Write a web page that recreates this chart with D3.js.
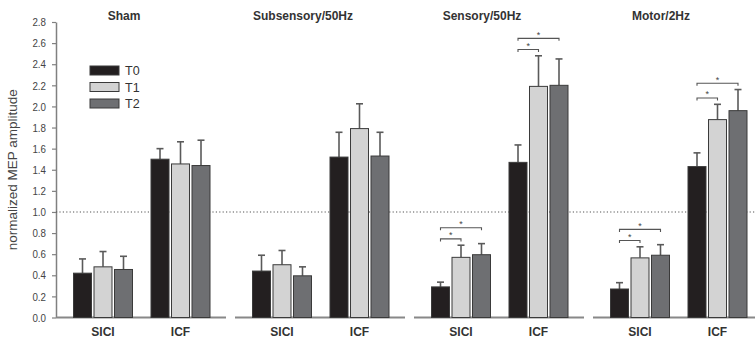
<!DOCTYPE html>
<html>
<head>
<meta charset="utf-8">
<script src="https://cdn.jsdelivr.net/npm/d3@7/dist/d3.min.js"></script>
<style>
  html, body { margin: 0; padding: 0; background: #fff; }
  svg { display: block; font-family: "Liberation Sans", Arial, sans-serif; }
</style>
</head>
<body>
<svg id="chart" width="755" height="338"></svg>
<script>
// Stimulation conditions (one panel each), measures and sessions
const panels = ["Sham", "Subsensory/50Hz", "Sensory/50Hz", "Motor/2Hz"];
const measures = ["SICI", "ICF"];
const sessions = ["T0", "T1", "T2"];

// Mean normalized MEP amplitude, ordered panel by panel: [SICI, ICF] for each condition
const meanT0 = [0.42, 1.50, 0.44, 1.52, 0.29, 1.47, 0.27, 1.43];
const meanT1 = [0.48, 1.455, 0.50, 1.79, 0.57, 2.19, 0.565, 1.875];
const meanT2 = [0.455, 1.44, 0.395, 1.53, 0.595, 2.20, 0.59, 1.96];

// Standard error (upper whisker length), same order
const semT0 = [0.135, 0.10, 0.15, 0.235, 0.045, 0.165, 0.06, 0.13];
const semT1 = [0.145, 0.21, 0.135, 0.235, 0.115, 0.29, 0.105, 0.145];
const semT2 = [0.125, 0.24, 0.085, 0.225, 0.105, 0.25, 0.10, 0.20];

// Significant differences between sessions (*)
const sigPanel   = ["Sensory/50Hz", "Sensory/50Hz", "Sensory/50Hz", "Sensory/50Hz", "Motor/2Hz", "Motor/2Hz", "Motor/2Hz", "Motor/2Hz"];
const sigMeasure = ["SICI", "SICI", "ICF", "ICF", "SICI", "SICI", "ICF", "ICF"];
const sigFrom    = ["T0", "T0", "T0", "T0", "T0", "T0", "T0", "T0"];
const sigTo      = ["T1", "T2", "T1", "T2", "T1", "T2", "T1", "T2"];

const yTicks = [0.0, 0.2, 0.4, 0.6, 0.8, 1.0, 1.2, 1.4, 1.6, 1.8, 2.0, 2.2, 2.4, 2.6, 2.8];

const fills = { T0: "#231f20", T1: "#d3d3d3", T2: "#6e6f72" };

const svg = d3.select("#chart");
const W = 755;

// Build records
const rows = [];
panels.forEach((p, pi) => {
  measures.forEach((m, mi) => {
    const k = pi * measures.length + mi;
    const means = [meanT0[k], meanT1[k], meanT2[k]];
    const sems = [semT0[k], semT1[k], semT2[k]];
    sessions.forEach((s, si) => rows.push({ panel: p, measure: m, session: s, mean: means[si], sem: sems[si] }));
  });
});

// Scales
const y = d3.scaleLinear().domain([0, 2.8]).range([317.5, 22]);
const xPanel = d3.scaleBand().domain(panels).range([56, 763]).paddingInner(9 / 179).paddingOuter(0);
const xGroup = d3.scalePoint().domain(measures).range([47, 124.5]);
const xBar = d3.scaleBand().domain(sessions).range([-29.5, 29.5]).paddingInner(0.122).paddingOuter(0);

const barX = d => xPanel(d.panel) + xGroup(d.measure) + xBar(d.session);
const barCx = d => barX(d) + xBar.bandwidth() / 2;

// Y axis
const yAxis = d3.axisLeft(y).tickValues(yTicks).tickFormat(d3.format(".1f")).tickSize(4).tickSizeOuter(0);
const gy = svg.append("g").attr("transform", "translate(56,0)").call(yAxis);
gy.select(".domain").attr("stroke", "#808080").attr("stroke-width", 1.5);
gy.selectAll(".tick line").attr("stroke", "#808080").attr("stroke-width", 1.2);
gy.selectAll(".tick text")
  .attr("x", null)
  .attr("transform", "translate(-10,0) scale(0.85,1)")
  .attr("fill", "#444")
  .attr("font-size", 11.5)
  .attr("font-family", "Liberation Sans, Arial, sans-serif");

// Y axis title
svg.append("text")
  .attr("transform", `translate(17,${(y(0) + y(2.8)) / 2}) scale(0.88,1) rotate(-90)`)
  .attr("text-anchor", "middle")
  .attr("fill", "#444")
  .attr("font-size", 13.5)
  .text("normalized MEP amplitude");

// Reference line at 1.0
svg.append("line")
  .attr("x1", 56).attr("x2", W)
  .attr("y1", y(1)).attr("y2", y(1))
  .attr("stroke", "#555").attr("stroke-width", 1.1)
  .attr("stroke-dasharray", "1.2,2.2");

// Panel baselines, titles and measure labels
const gp = svg.selectAll("g.panel").data(panels).join("g").attr("class", "panel")
  .attr("transform", d => `translate(${xPanel(d)},0)`);

gp.append("line")
  .attr("x1", 0).attr("x2", xPanel.bandwidth())
  .attr("y1", y(0)).attr("y2", y(0))
  .attr("stroke", "#888").attr("stroke-width", 2);

gp.append("text")
  .attr("x", 68).attr("y", 20)
  .attr("text-anchor", "middle")
  .attr("font-size", 12).attr("font-weight", "bold").attr("fill", "#333")
  .text(d => d);

gp.selectAll("text.measure").data(measures).join("text").attr("class", "measure")
  .attr("x", d => xGroup(d)).attr("y", 335.5)
  .attr("text-anchor", "middle")
  .attr("font-size", 12).attr("font-weight", "bold").attr("fill", "#333")
  .text(d => d);

// Error bars (upper whisker)
const eb = svg.append("g").selectAll("g").data(rows).join("g");
eb.append("line")
  .attr("x1", barCx).attr("x2", barCx)
  .attr("y1", d => y(d.mean)).attr("y2", d => y(d.mean + d.sem))
  .attr("stroke", "#5a5a5a").attr("stroke-width", 1.6);
eb.append("line")
  .attr("x1", d => barCx(d) - 3.5).attr("x2", d => barCx(d) + 3.5)
  .attr("y1", d => y(d.mean + d.sem)).attr("y2", d => y(d.mean + d.sem))
  .attr("stroke", "#5a5a5a").attr("stroke-width", 1.6);

// Bars
svg.append("g").selectAll("rect").data(rows).join("rect")
  .attr("x", barX)
  .attr("y", d => y(d.mean))
  .attr("width", xBar.bandwidth())
  .attr("height", d => y(0) - y(d.mean))
  .attr("fill", d => fills[d.session])
  .attr("stroke", "#3a3a3a").attr("stroke-width", 1);

// Significance brackets, stacked upward per group
const sigG = svg.append("g");
const lastLevel = {};
sigPanel.forEach((p, i) => {
  const m = sigMeasure[i];
  const a = sigFrom[i], b = sigTo[i];
  const span = sessions.slice(sessions.indexOf(a), sessions.indexOf(b) + 1);
  const topMost = d3.max(rows.filter(r => r.panel === p && r.measure === m && span.includes(r.session)), r => r.mean + r.sem);
  const key = p + "|" + m;
  let level = topMost + 0.06;
  if (lastLevel[key] !== undefined) level = Math.max(level, lastLevel[key] + 0.105);
  lastLevel[key] = level;
  const ra = rows.find(r => r.panel === p && r.measure === m && r.session === a);
  const rb = rows.find(r => r.panel === p && r.measure === m && r.session === b);
  const x1 = barCx(ra), x2 = barCx(rb), yy = y(level);
  sigG.append("path")
    .attr("d", `M${x1},${yy + 2.5}V${yy}H${x2}V${yy + 2.5}`)
    .attr("fill", "none").attr("stroke", "#555").attr("stroke-width", 1.1);
  sigG.append("text")
    .attr("x", (x1 + x2) / 2).attr("y", yy - 0.5)
    .attr("text-anchor", "middle")
    .attr("font-size", 9).attr("fill", "#444")
    .text("*");
});

// Legend
const leg = svg.append("g").selectAll("g").data(sessions).join("g")
  .attr("transform", (d, i) => `translate(90,${66 + i * 16.5})`);
leg.append("rect")
  .attr("width", 29).attr("height", 9)
  .attr("fill", d => fills[d])
  .attr("stroke", "#3a3a3a").attr("stroke-width", 1);
leg.append("text")
  .attr("x", 35).attr("y", 9)
  .attr("font-size", 12.5).attr("fill", "#333")
  .text(d => d);
</script>
</body>
</html>
